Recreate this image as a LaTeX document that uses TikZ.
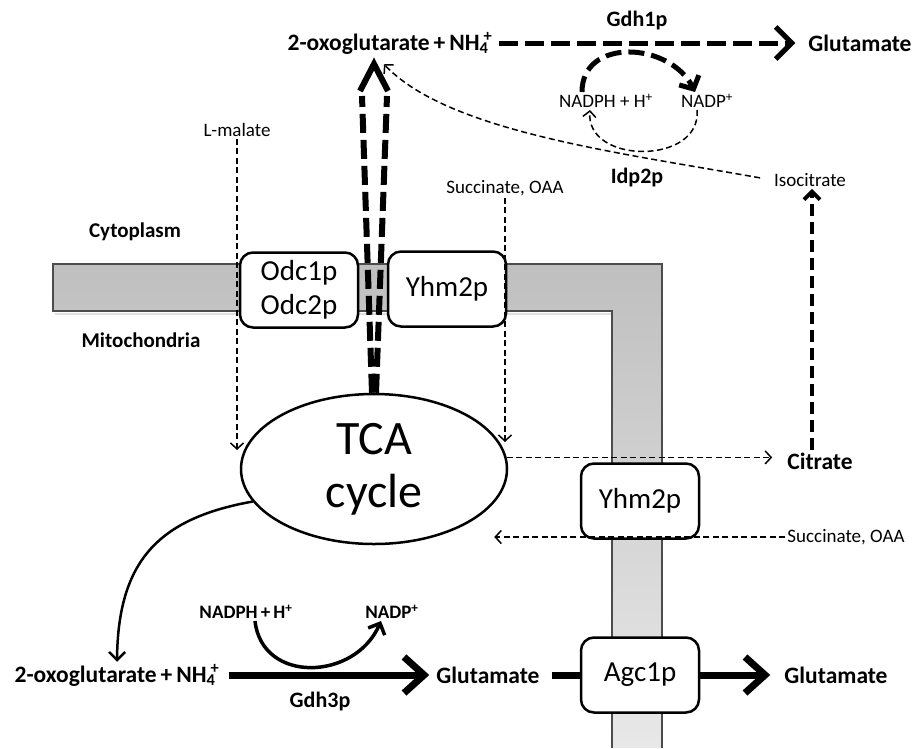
\documentclass[tikz,border=0pt]{standalone}
\usepackage{fontspec}
\setmainfont{Carlito}
\usetikzlibrary{arrows.meta,shapes.geometric}

\begin{document}
\begin{tikzpicture}[x=1pt, y=-1pt,
  lbl/.style={font=\fontsize{19}{22}\selectfont, inner sep=2pt},
  blbl/.style={font=\bfseries\fontsize{23.5}{26}\selectfont, inner sep=2pt},
  slbl/.style={font=\bfseries\fontsize{21}{24}\selectfont, inner sep=2pt},
  carrier/.style={draw, line width=2.5pt, rounded corners=13pt, fill=white,
    minimum width=118pt, minimum height=75pt, align=center,
    font=\fontsize{29}{34}\selectfont},
  thindash/.style={line width=1.5pt, dash pattern=on 6pt off 3.5pt,
    -{Straight Barb[length=6pt,width=13pt]}},
  thickdash/.style={line width=5pt, dash pattern=on 19pt off 7pt},
  flux/.style={line width=7pt},
  bigtip/.style={-{Straight Barb[length=16pt,width=32pt]}},
]
\useasboundingbox (0,0) rectangle (919,748);

% membrane
\draw[black!12, line width=2pt] (55,313.5) -- (614.5,313.5) -- (614.5,748);
\shade[top color=black!25, bottom color=black!9] (53,264) -- (662,264) -- (662,748)
  -- (612,748) -- (612,311) -- (53,311) -- cycle;
\draw[black!70, line width=1.3pt] (612,748) -- (612,311) -- (53,311) -- (53,264)
  -- (662,264) -- (662,748);

\node[slbl] (cyto) at (135,232) {Cytoplasm};
\node[slbl] (mito) at (141,340) {Mitochondria};

% carriers
\node[carrier] (odc) at (299,290) {Odc1p\\Odc2p};
\node[carrier] (yhmt) at (447,289) {Yhm2p};
\node[carrier] (yhmb) at (640,501) {Yhm2p};
\node[carrier] (agc) at (640,675) {Agc1p};

\node[draw, ellipse, line width=2.5pt, fill=white, minimum width=266pt,
  minimum height=150pt, inner sep=0pt, align=center,
  font=\fontsize{48}{53}\selectfont] (tca) at (374,469) {TCA\\cycle};

% cytosolic metabolites
\node[blbl] (tox) at (390,43) {2-oxoglutarate\,+\,NH\textsubscript{4}\kern-0.2em\textsuperscript{+}};
\node[blbl] (tglu) at (860,43) {Glutamate};
\node[slbl, font=\bfseries\fontsize{22}{24}\selectfont] (gdh1) at (637,21) {Gdh1p};
\node[lbl] (nadpht) at (606,101) {NADPH + H\textsuperscript{+}};
\node[lbl] (nadpt) at (707,101) {NADP\textsuperscript{+}};
\node[slbl, font=\bfseries\fontsize{22}{24}\selectfont] (idp2) at (637,178) {Idp2p};
\node[lbl] (isocit) at (810,180) {Isocitrate};
\node[lbl] (lmal) at (237,130) {L-malate};
\node[lbl] (succt) at (505,188) {Succinate, OAA};

% mitochondrial metabolites
\node[blbl] (citrate) at (820,461) {Citrate};
\node[lbl] (succb) at (846,537) {Succinate, OAA};
\node[blbl] (oxb) at (117,675) {2-oxoglutarate\,+\,NH\textsubscript{4}\kern-0.2em\textsuperscript{+}};
\node[blbl] (glub) at (488,675) {Glutamate};
\node[blbl] (gluout) at (836,675) {Glutamate};
\node[slbl, font=\bfseries\fontsize{19}{22}\selectfont] (nadphb) at (246,612) {NADPH\,+\,H\textsuperscript{+}};
\node[slbl, font=\bfseries\fontsize{19}{22}\selectfont] (nadpb) at (392,612) {NADP\textsuperscript{+}};
\node[slbl, font=\bfseries\fontsize{22}{24}\selectfont] (gdh3) at (320,701) {Gdh3p};

% cytosolic Gdh1p reaction
\draw[thickdash, bigtip, shorten <=4pt, shorten >=11pt] (tox.east) -- (tglu.west);
\draw[thickdash, dash pattern=on 16pt off 7pt, -{Straight Barb[length=10pt,width=22pt]}]
  ([xshift=-24pt]nadpht.north) .. controls +(0,-55) and +(-25,-50) .. ([xshift=-12pt]nadpt.north);
\draw[thindash] ([xshift=-10pt]nadpt.south) .. controls +(5,55) and +(-5,55) .. ([xshift=-16pt]nadpht.south);
\draw[thindash, shorten <=12pt] (isocit.west) .. controls +(-157,-28) and +(64,67) .. ([shift={(-6,8)}]tox.south);
\draw[thickdash, line width=4pt, dash pattern=on 12pt off 6pt,
  -{Straight Barb[length=8pt,width=16pt]}] ([xshift=-8pt]citrate.north) -- ([xshift=-8pt]citrate.north |- isocit.south);

% 2-oxoglutarate leaving the TCA cycle
\coordinate (dtip) at (374,64);
\draw[thickdash, line width=6pt] ([xshift=-2pt]tca.north) -- ([shift={(-12,32)}]dtip);
\draw[thickdash, line width=6pt] ([xshift=2pt]tca.north) -- ([shift={(13,32)}]dtip);
\draw[line width=6pt] ([shift={(-14,27)}]dtip) -- (dtip) -- ([shift={(14,27)}]dtip);

% transport
\draw[thindash, shorten >=19pt] (lmal.south) -- (lmal.south |- tca.west);
\draw[thindash, shorten >=27pt] (succt.south) -- (succt.south |- tca.east);
\draw[thindash, shorten >=13pt] (tca.5) -- (tca.5 -| citrate.west);
\draw[thindash, shorten >=-14pt] (succb.west) -- (succb.west -| tca.east);

% mitochondrial Gdh3p reaction
\draw[line width=2.5pt, -{Straight Barb[length=8pt,width=16pt]}] (tca.195) .. controls +(-95,17) and +(1,-100) .. (oxb.north);
\draw[flux, -{Straight Barb[length=20pt,width=36pt]}, shorten <=7pt, shorten >=5pt] (oxb.east) -- (glub.west);
\draw[line width=3.5pt, -{Straight Barb[length=9pt,width=18pt]}]
  ([xshift=9pt]nadphb.south) .. controls +(7,63) and +(-26,60) .. ([xshift=-11pt]nadpb.south);
\draw[flux, shorten <=10pt] (glub.east) -- (agc.west);
\draw[flux, -{Straight Barb[length=20pt,width=36pt]}, shorten >=12pt] (agc.east) -- (gluout.west);
\end{tikzpicture}
\end{document}
